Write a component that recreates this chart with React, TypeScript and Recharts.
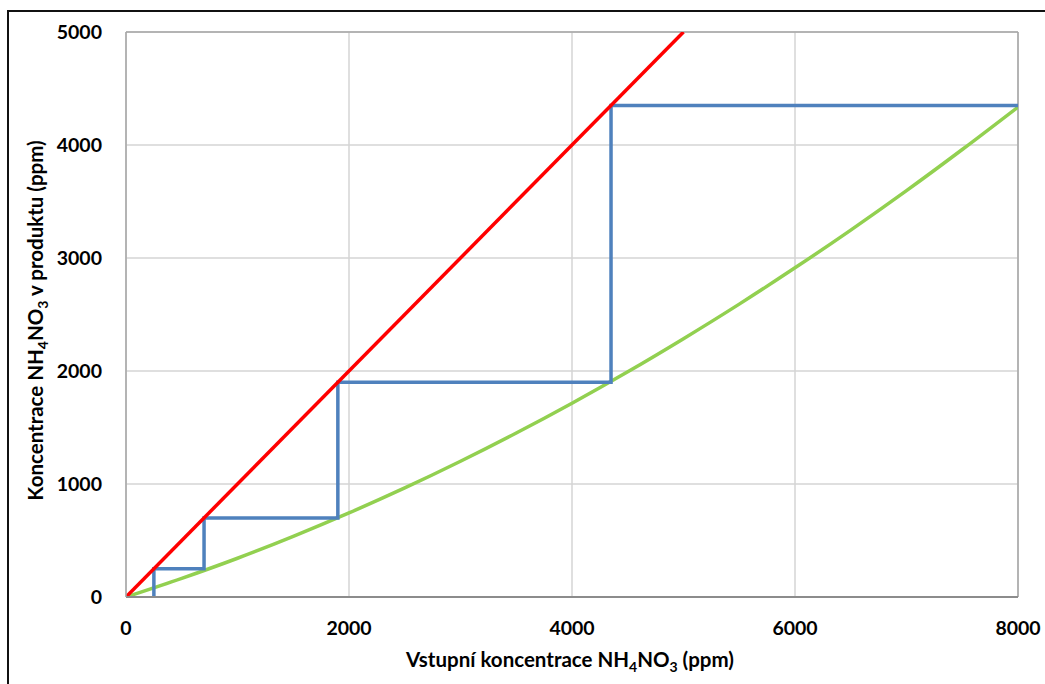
import { LineChart, Line, XAxis, YAxis, CartesianGrid, ReferenceLine } from 'recharts'

// x values (ppm) used by all series
const diagonalX = [0, 5000]
const diagonalY = [0, 5000]

// staircase of the stage construction
const stepX = [250, 250, 700, 700, 1900, 1900, 4350, 4350, 8000]
const stepY = [0, 250, 250, 700, 700, 1900, 1900, 4350, 4350]

// equilibrium curve
const curveX = [0, 500, 1000, 1500, 2000, 2500, 3000, 3500, 4000, 4500, 5000, 5500, 6000, 6500, 7000, 7500, 8000]
const curveY = [0, 165, 343, 537, 744, 965, 1201, 1451, 1715, 1993, 2286, 2592, 2913, 3247, 3596, 3960, 4336]

const xTicks = [0, 2000, 4000, 6000, 8000]
const yTicks = [0, 1000, 2000, 3000, 4000, 5000]

const toPoints = (xs: number[], ys: number[]) => xs.map((x, i) => ({ x, y: ys[i] }))

const diagonal = toPoints(diagonalX, diagonalY)
const steps = toPoints(stepX, stepY)
const curve = toPoints(curveX, curveY)

const FONT = 'Lato, "Open Sans", sans-serif'

function XTitle({ viewBox }: any) {
  const { x, y, width } = viewBox
  return (
    <text x={x + width / 2 - 2} y={y + 70} textAnchor="middle" fontFamily={FONT} fontWeight={700} fontSize={20.5} fill="#000">
      Vstupní koncentrace NH
      <tspan fontSize={14} dy={5}>4</tspan>
      <tspan dy={-5}>NO</tspan>
      <tspan fontSize={14} dy={5}>3</tspan>
      <tspan dy={-5}> (ppm)</tspan>
    </text>
  )
}

function YTitle({ viewBox }: any) {
  const { y, height } = viewBox
  const cx = 43
  const cy = y + height / 2 + 6
  return (
    <text
      x={cx}
      y={cy}
      transform={`rotate(-90 ${cx} ${cy})`}
      textAnchor="middle"
      fontFamily={FONT}
      fontWeight={700}
      fontSize={20.5}
      fill="#000"
    >
      Koncentrace NH
      <tspan fontSize={14} dy={5}>4</tspan>
      <tspan dy={-5}>NO</tspan>
      <tspan fontSize={14} dy={5}>3</tspan>
      <tspan dy={-5}> v produktu (ppm)</tspan>
    </text>
  )
}

const tickStyle = { fontFamily: FONT, fontWeight: 700, fontSize: 19.5, fill: '#000' }

export default function App() {
  return (
    <div style={{ position: 'absolute', left: 0, top: 0, width: 1045, height: 684, background: '#fff', overflow: 'hidden' }}>
      <div
        style={{
          position: 'absolute',
          left: 7,
          top: 10,
          width: 1100,
          height: 800,
          border: '2px solid #111',
          boxSizing: 'border-box',
        }}
      />
      <div style={{ position: 'absolute', left: 0, top: 0 }}>
        <LineChart width={1045} height={684} margin={{ top: 32, right: 27, bottom: 0, left: 0 }}>
          <CartesianGrid stroke="#d4d4d4" strokeWidth={1.5} />
          <XAxis
            type="number"
            dataKey="x"
            domain={[0, 8000]}
            ticks={xTicks}
            height={87}
            tickLine={false}
            axisLine={{ stroke: '#8c8c8c', strokeWidth: 2 }}
            tick={tickStyle}
            tickMargin={18}
            label={<XTitle />}
            allowDataOverflow
          />
          <YAxis
            type="number"
            dataKey="y"
            domain={[0, 5000]}
            ticks={yTicks}
            width={126}
            tickLine={false}
            axisLine={{ stroke: '#a6a6a6', strokeWidth: 1.5 }}
            tick={tickStyle}
            tickMargin={18}
            label={<YTitle />}
            allowDataOverflow
          />
          <ReferenceLine y={5000} stroke="#a6a6a6" strokeWidth={1.5} />
          <ReferenceLine x={8000} stroke="#a6a6a6" strokeWidth={1.5} />
          <Line data={curve} dataKey="y" type="monotone" stroke="#92d050" strokeWidth={3.5} dot={false} isAnimationActive={false} />
          <Line data={steps} dataKey="y" type="linear" stroke="#4f81bd" strokeWidth={3.5} dot={false} isAnimationActive={false} />
          <Line data={diagonal} dataKey="y" type="linear" stroke="#ff0000" strokeWidth={3.5} dot={false} isAnimationActive={false} />
        </LineChart>
      </div>
    </div>
  )
}
